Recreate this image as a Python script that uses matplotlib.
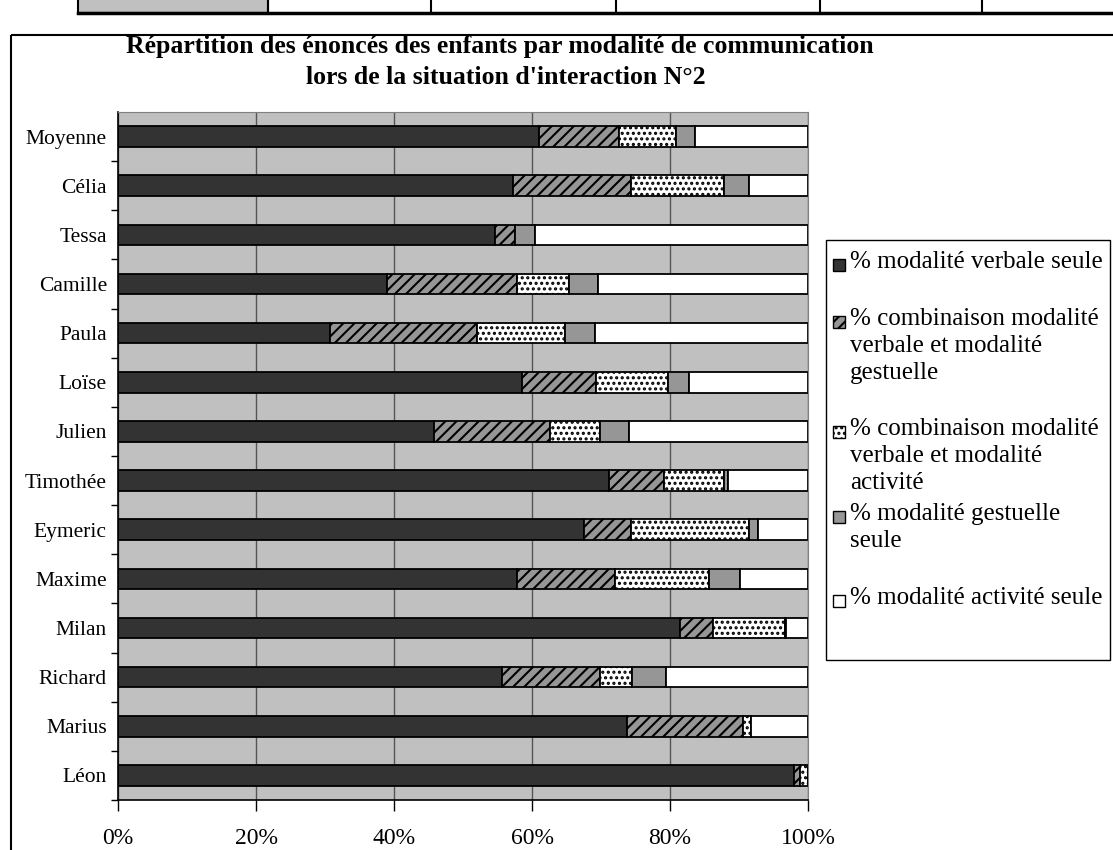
import matplotlib
matplotlib.use("Agg")
import matplotlib.pyplot as plt
from matplotlib.patches import Rectangle

plt.rcParams['font.family'] = ['Liberation Serif', 'DejaVu Serif']
plt.rcParams['hatch.linewidth'] = 1.5

# children, bottom to top
enfants = ['Léon', 'Marius', 'Richard', 'Milan', 'Maxime', 'Eymeric', 'Timothée',
           'Julien', 'Loïse', 'Paula', 'Camille', 'Tessa', 'Célia', 'Moyenne']

verbale = [97.9, 73.7, 55.7, 81.4, 57.8, 67.5, 71.1, 45.8, 58.5, 30.7, 39.0, 54.7, 57.3, 61.0]
verb_gest = [1.0, 16.9, 14.1, 4.8, 14.3, 6.8, 8.0, 16.8, 10.8, 21.3, 18.8, 2.8, 17.0, 11.6]
verb_act = [1.1, 1.1, 4.7, 10.5, 13.6, 17.1, 8.7, 7.2, 10.4, 12.8, 7.5, 0.0, 13.5, 8.3]
gestuelle = [0.0, 0.0, 4.9, 0.1, 4.4, 1.3, 0.6, 4.3, 3.1, 4.3, 4.2, 3.0, 3.6, 2.7]
activite = [0.0, 8.3, 20.6, 3.2, 9.9, 7.3, 11.6, 25.9, 17.2, 30.9, 30.5, 39.5, 8.6, 16.4]

series = [verbale, verb_gest, verb_act, gestuelle, activite]
labels = ['% modalité verbale seule',
          '% combinaison modalité\nverbale et modalité\ngestuelle',
          '% combinaison modalité\nverbale et modalité\nactivité',
          '% modalité gestuelle\nseule',
          '% modalité activité seule']
styles = [dict(facecolor='#333333', hatch=None),
          dict(facecolor='#969696', hatch='///'),
          dict(facecolor='white', hatch='...'),
          dict(facecolor='#969696', hatch=None),
          dict(facecolor='white', hatch=None)]

W, H = 1113, 850
fig = plt.figure(figsize=(W / 100, H / 100), dpi=100)

# page decorations drawn in pixel coordinates
bg = fig.add_axes([0, 0, 1, 1])
bg.set_xlim(0, W)
bg.set_ylim(H, 0)
bg.axis('off')
bg.add_patch(Rectangle((78, -2), 190, 15, facecolor='#c0c0c0', edgecolor='black', lw=1.5))
bg.plot([78, W], [13, 13], color='black', lw=2.5)
for x in [268, 431, 616, 820, 982]:
    bg.plot([x, x], [0, 13], color='black', lw=1.5)
bg.add_patch(Rectangle((11, 35), W, H, facecolor='none', edgecolor='black', lw=1.5))

bg.text(500, 46, 'Répartition des énoncés des enfants par modalité de communication',
        ha='center', va='center', fontsize=18.5, fontweight='bold')
bg.text(506, 77, "lors de la situation d'interaction N°2",
        ha='center', va='center', fontsize=18.5, fontweight='bold')

# legend box
bg.add_patch(Rectangle((826, 240), 284, 420, facecolor='white', edgecolor='black', lw=1))
leg_y = [265, 322, 432, 517, 601]
for y, lab, st in zip(leg_y, labels, styles):
    bg.add_patch(Rectangle((833, y - 6), 12, 12, edgecolor='black', lw=1, **st))
    bg.text(850, y - 14, lab, ha='left', va='top', fontsize=18, linespacing=1.28)

# plot area
ax = fig.add_axes([118 / W, 1 - 800 / H, 690 / W, 688 / H])
ax.set_facecolor('#c0c0c0')
ax.set_axisbelow(True)

pos = list(range(len(enfants)))
left = [0.0] * len(enfants)
for vals, st in zip(series, styles):
    ax.barh(pos, vals, left=left, height=0.42, edgecolor='black', linewidth=1.3, **st)
    left = [a + b for a, b in zip(left, vals)]

ax.set_xlim(0, 100)
ax.set_ylim(-0.5, len(enfants) - 0.5)
ax.set_xticks([0, 20, 40, 60, 80, 100])
ax.set_xticklabels(['0%', '20%', '40%', '60%', '80%', '100%'], fontsize=17)
ax.xaxis.grid(True, color='#555555', lw=1)
ax.set_yticks(pos)
ax.set_yticklabels(enfants, fontsize=15.5)
ax.set_yticks([p + 0.5 for p in pos[:-1]] + [-0.5], minor=True)
ax.tick_params(axis='y', which='major', length=0, pad=8)
ax.tick_params(axis='y', which='minor', length=5, width=1, direction='out')
ax.tick_params(axis='x', length=8, width=1, direction='out', pad=12)
for s in ['top', 'right']:
    ax.spines[s].set_color('#808080')
for s in ['left', 'bottom']:
    ax.spines[s].set_color('black')
    ax.spines[s].set_linewidth(1.2)

fig.savefig('out.png', dpi=100)
